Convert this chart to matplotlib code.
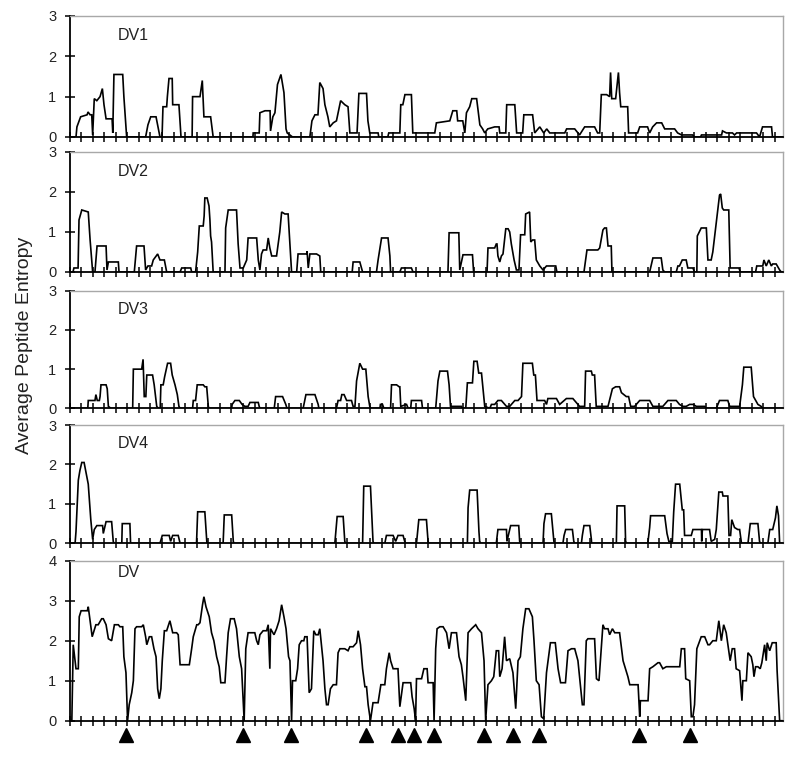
import matplotlib
matplotlib.use("Agg")
import matplotlib.pyplot as plt
import numpy as np

plt.rcParams['font.family'] = ['Liberation Sans', 'DejaVu Sans']

# ---------------- data (position in residues, average peptide entropy) ----------------
dv1_pos = [0, 28, 32, 48, 76, 80, 89, 96, 100, 107, 118, 132, 142, 149, 158, 184, 187, 192, 230, 235, 247,
           329, 339, 351, 374, 391, 400, 404, 420, 423, 430, 444, 446, 473, 482, 530, 532, 564, 574, 581, 610, 621,
           793, 794, 820, 823, 845, 867, 869, 879, 888, 899, 914, 927, 936, 941, 964,
           1039, 1048, 1061, 1074, 1082, 1096, 1104, 1117, 1125, 1140, 1154, 1172, 1190, 1204, 1212, 1243, 1251,
           1284, 1290, 1298, 1334, 1337, 1376, 1380, 1428, 1432, 1441, 1450, 1478, 1484, 1579, 1586, 1644, 1657,
           1674, 1678, 1700, 1709, 1716, 1730, 1739, 1760, 1774, 1786, 1795, 1808, 1838, 1857, 1860, 1886, 1890,
           1925, 1933, 1959, 1964, 2002, 2011, 2033, 2050, 2063, 2076, 2141, 2149, 2184, 2205, 2227, 2270, 2283,
           2292, 2299, 2322, 2335, 2339, 2344, 2361, 2373, 2378, 2383, 2413, 2417, 2456, 2465, 2499, 2508, 2521,
           2538, 2560, 2573, 2616, 2629, 2646, 2694, 2702, 2728, 2732, 2819, 2823, 2840, 2866, 2875, 2884, 2970,
           2983, 2996, 3035, 3039, 3082]
dv1_val = [0, 0, 0.25, 0.5, 0.55, 0.62, 0.55, 0.55, 0.05, 0.95, 0.9, 1.0, 1.2, 0.8, 0.45, 0.45, 0.1, 1.55, 1.55, 1.0, 0,
           0, 0.3, 0.5, 0.5, 0, 0, 0.75, 0.75, 1.0, 1.45, 1.45, 0.8, 0.8, 0, 0, 1.0, 1.0, 1.4, 0.5, 0.5, 0,
           0, 0.1, 0.1, 0.6, 0.65, 0.65, 0.15, 0.5, 0.6, 1.3, 1.55, 1.1, 0.2, 0.1, 0,
           0, 0.4, 0.55, 0.55, 1.35, 1.2, 0.8, 0.5, 0.25, 0.35, 0.4, 0.9, 0.8, 0.75, 0.1, 0.1, 1.08,
           1.08, 0.4, 0.1, 0.1, 0, 0, 0.1, 0.1, 0.8, 0.8, 1.05, 1.05, 0.1, 0.1, 0.35, 0.4, 0.65,
           0.65, 0.4, 0.4, 0.1, 0.6, 0.75, 0.95, 0.95, 0.3, 0.2, 0.1, 0.2, 0.25, 0.25, 0.1, 0.1, 0.8,
           0.8, 0.1, 0.1, 0.55, 0.55, 0.1, 0.25, 0.1, 0.2, 0.1, 0.1, 0.2, 0.2, 0.05, 0.25, 0.25, 0.1,
           0.1, 1.05, 1.05, 1.0, 1.6, 0.95, 0.95, 1.6, 1.1, 0.75, 0.75, 0.1, 0.1, 0.25, 0.25, 0.1, 0.25,
           0.35, 0.35, 0.2, 0.2, 0.1, 0.05, 0.05, 0, 0, 0.05, 0.05, 0.15, 0.1, 0.1, 0.05, 0.1, 0.1,
           0, 0.25, 0.25, 0, 0]

dv2_pos = [0, 15, 19, 37, 41, 53, 81, 89, 100, 110, 114, 119, 158, 162, 168, 211, 214, 280, 290, 322, 329, 339,
           355, 362, 381, 391, 410, 420, 478, 485, 524, 528, 545, 554, 561, 578, 582, 585, 595, 603, 607, 610,
           614, 621, 672, 675, 686, 722, 729, 737, 751, 766, 772, 809, 816, 823, 830, 837, 852, 859, 866, 874,
           895, 909, 917, 931, 945, 953, 960, 982, 988, 1025, 1027, 1032, 1039, 1068, 1082, 1086, 1222, 1226,
           1255, 1267, 1327, 1334, 1349, 1377, 1385, 1388, 1428, 1435, 1478, 1485, 1636, 1641, 1683, 1687, 1701,
           1742, 1747, 1805, 1809, 1838, 1845, 1848, 1852, 1860, 1867, 1874, 1886, 1896, 1903, 1910, 1922, 1932,
           1943, 1950, 1968, 1972, 1989, 1994, 2002, 2011, 2018, 2033, 2047, 2062, 2102, 2107, 2224, 2237, 2284,
           2292, 2306, 2313, 2321, 2328, 2342, 2345, 2508, 2522, 2558, 2565, 2573, 2623, 2630, 2637, 2649, 2666,
           2673, 2695, 2702, 2712, 2714, 2731, 2753, 2760, 2774, 2781, 2810, 2815, 2822, 2828, 2850, 2856, 2894,
           2900, 2966, 2971, 2997, 3002, 3012, 3023, 3034, 3040, 3055, 3070, 3077, 3082]
dv2_val = [0, 0, 0.1, 0.1, 1.3, 1.55, 1.5, 0.8, 0, 0, 0.3, 0.65, 0.65, 0.05, 0.25, 0.25, 0, 0, 0.65, 0.65, 0.05, 0.15,
           0.15, 0.3, 0.45, 0.3, 0.3, 0, 0, 0.1, 0.1, 0, 0, 0.5, 1.15, 1.15, 1.4, 1.85, 1.85, 1.65, 1.3, 0.9,
           0.75, 0, 0, 1.1, 1.55, 1.55, 0.7, 0.1, 0.1, 0.3, 0.85, 0.85, 0.3, 0.05, 0.45, 0.55, 0.55, 0.85, 0.6, 0.4,
           0.4, 1.0, 1.5, 1.45, 1.45, 0.7, 0, 0, 0.45, 0.45, 0.52, 0.1, 0.45, 0.45, 0.4, 0, 0, 0.25,
           0.25, 0, 0, 0.3, 0.85, 0.85, 0.4, 0, 0, 0.1, 0.1, 0, 0, 0.98, 0.98, 0.05, 0.43,
           0.43, 0, 0, 0.6, 0.6, 0.7, 0.7, 0.4, 0.25, 0.4, 0.45, 1.08, 1.08, 1.0, 0.7, 0.3, 0.05,
           0.05, 0.93, 0.93, 1.45, 1.5, 0.75, 0.8, 0.8, 0.3, 0.15, 0.05, 0.15, 0.15, 0, 0, 0.55, 0.55,
           0.6, 1.05, 1.1, 1.1, 0.65, 0.65, 0, 0, 0.35, 0.35, 0.05, 0, 0, 0.15, 0.15, 0.3, 0.3,
           0.1, 0.1, 0, 0, 0.9, 1.1, 1.1, 0.3, 0.3, 0.5, 1.92, 1.95, 1.6, 1.55, 1.55, 0.1, 0.1,
           0, 0, 0.15, 0.15, 0.3, 0.15, 0.3, 0.15, 0.2, 0.2, 0.05, 0, 0]

dv3_pos = [0, 79, 81, 110, 114, 120, 129, 132, 136, 158, 163, 168, 179, 273, 276, 312, 318, 323, 330, 334, 359, 366,
           377, 384, 392, 395, 405, 411, 424, 437, 444, 456, 466, 473, 478, 532, 535, 545, 552, 578, 585, 593, 600,
           603, 701, 703, 715, 734, 746, 758, 772, 780, 816, 820, 823, 885, 891, 921, 935, 940, 1010, 1022, 1061,
           1075, 1078, 1154, 1161, 1172, 1177, 1187, 1198, 1219, 1226, 1234, 1241, 1255, 1267, 1281, 1291, 1298,
           1302, 1342, 1344, 1353, 1359, 1388, 1392, 1414, 1425, 1428, 1432, 1457, 1464, 1475, 1478, 1522, 1526,
           1583, 1593, 1601, 1634, 1641, 1647, 1694, 1699, 1713, 1720, 1742, 1748, 1762, 1769, 1781, 1795, 1817,
           1824, 1838, 1852, 1867, 1889, 1903, 1925, 1939, 1954, 1960, 2001, 2007, 2014, 2021, 2054, 2062, 2068,
           2105, 2119, 2148, 2176, 2198, 2205, 2227, 2231, 2256, 2260, 2270, 2277, 2328, 2347, 2361, 2378, 2386,
           2407, 2417, 2426, 2443, 2465, 2508, 2522, 2565, 2580, 2587, 2623, 2637, 2652, 2666, 2681, 2695, 2710,
           2746, 2753, 2796, 2810, 2846, 2854, 2897, 2909, 2915, 2947, 2957, 2976, 2990, 2997, 3082]
dv3_val = [0, 0, 0.2, 0.2, 0.35, 0.2, 0.2, 0.3, 0.6, 0.6, 0.5, 0.05, 0, 0, 1.0, 1.0, 1.25, 0.3, 0.3, 0.85, 0.85, 0.6,
           0.05, 0, 0, 0.6, 0.6, 0.8, 1.15, 1.15, 0.85, 0.6, 0.35, 0.05, 0, 0, 0.2, 0.2, 0.6, 0.6, 0.55, 0.55, 0.05,
           0, 0, 0.1, 0.2, 0.2, 0.1, 0.05, 0.05, 0.15, 0.15, 0.05, 0, 0, 0.3, 0.3, 0.1, 0, 0, 0.35, 0.35,
           0.1, 0, 0, 0.2, 0.2, 0.35, 0.35, 0.2, 0.2, 0.05, 0.05, 0.7, 1.15, 1.0, 1.0, 0.3, 0.05,
           0, 0, 0.1, 0.1, 0, 0, 0.6, 0.6, 0.55, 0.55, 0.05, 0.1, 0, 0, 0.2, 0.2, 0,
           0, 0.7, 0.95, 0.95, 0.6, 0.05, 0.05, 0, 0, 0.65, 0.65, 1.2, 1.2, 0.9, 0.9, 0.05, 0,
           0.1, 0.1, 0.2, 0.2, 0.05, 0.05, 0.2, 0.2, 0.3, 1.15, 1.15, 0.85, 0.85, 0.2, 0.2, 0.1, 0.25,
           0.25, 0.1, 0.25, 0.25, 0.1, 0.05, 0.05, 0.95, 0.95, 0.85, 0.85, 0.05, 0.05, 0.5, 0.55, 0.55, 0.4,
           0.3, 0.3, 0.05, 0.05, 0.2, 0.2, 0.05, 0.05, 0.15, 0.2, 0.2, 0.1, 0.05, 0.05, 0.1, 0.1, 0.05,
           0.05, 0, 0, 0.2, 0.2, 0.05, 0.05, 0.6, 1.05, 1.05, 0.3, 0.1, 0.05, 0, 0]

dv4_pos = [0, 24, 28, 38, 45, 53, 63, 71, 81, 92, 100, 107, 118, 143, 146, 158, 182, 189, 192, 226, 228, 261, 264,
           391, 401, 431, 437, 446, 470, 478, 549, 554, 585, 593, 594, 664, 669, 701, 708, 711, 1147, 1157, 1183,
           1190, 1194, 1267, 1272, 1301, 1312, 1315, 1363, 1370, 1399, 1410, 1420, 1442, 1449, 1454, 1500, 1510,
           1543, 1550, 1553, 1720, 1723, 1730, 1762, 1770, 1773, 1778, 1845, 1852, 1889, 1891, 1907, 1942, 1946,
           1950, 2047, 2051, 2058, 2083, 2090, 2094, 2097, 2133, 2138, 2145, 2174, 2180, 2184, 2213, 2217, 2224,
           2249, 2256, 2257, 2364, 2367, 2400, 2404, 2409, 2500, 2508, 2512, 2573, 2583, 2591, 2606, 2612, 2620,
           2638, 2649, 2655, 2659, 2688, 2695, 2732, 2733, 2736, 2767, 2774, 2789, 2796, 2807, 2822, 2825, 2846,
           2851, 2858, 2863, 2875, 2889, 2897, 2904, 2905, 2933, 2943, 2976, 2983, 2987, 3019, 3027, 3040, 3052,
           3058, 3065, 3070, 3082]
dv4_val = [0, 0, 0.3, 1.6, 1.85, 2.05, 2.05, 1.8, 1.5, 0.6, 0.1, 0.35, 0.45, 0.45, 0.25, 0.55, 0.55, 0.05, 0, 0, 0.5, 0.5, 0,
           0, 0.2, 0.2, 0.05, 0.2, 0.2, 0, 0, 0.8, 0.8, 0.05, 0, 0, 0.72, 0.72, 0.05, 0, 0, 0.68, 0.68,
           0.05, 0, 0, 1.45, 1.45, 0.05, 0, 0, 0.2, 0.2, 0.05, 0.2, 0.2, 0.05, 0, 0, 0.6,
           0.6, 0.05, 0, 0, 0.9, 1.35, 1.35, 0.3, 0.05, 0, 0, 0.35, 0.35, 0.05, 0.45, 0.45, 0.05,
           0, 0, 0.5, 0.75, 0.75, 0.3, 0.05, 0, 0, 0.2, 0.35, 0.35, 0.05, 0, 0, 0.2, 0.45,
           0.45, 0.1, 0, 0, 0.95, 0.95, 0.05, 0, 0, 0.4, 0.7, 0.7, 0.25, 0.05, 0.05, 0.8, 1.5,
           1.5, 0.85, 0.85, 0.2, 0.2, 0.35, 0.35, 0.05, 0.35, 0.35, 0.05, 0.1, 0.35, 1.3, 1.3, 1.2, 1.2,
           0.2, 0.2, 0.6, 0.4, 0.35, 0.35, 0.05, 0, 0, 0.5, 0.5, 0.05, 0, 0, 0.35, 0.35, 0.65,
           0.95, 0.7, 0, 0]

dv_pos = [0, 10, 16, 28, 38, 42, 50, 77, 81, 89, 98, 114, 124, 139, 146, 158, 168, 182, 194, 211, 218, 230, 235, 244,
          251, 258, 269, 276, 283, 290, 312, 319, 329, 334, 345, 355, 365, 374, 381, 388, 395, 401, 410, 420, 434,
          446, 463, 470, 478, 518, 528, 535, 550, 556, 564, 575, 581, 590, 604, 614, 624, 636, 647, 654, 672, 679,
          686, 696, 712, 722, 734, 744, 755, 762, 772, 801, 809, 816, 823, 837, 852, 859, 866, 869, 884, 895, 906,
          917, 927, 936, 947, 953, 960, 964, 978, 986, 993, 1003, 1013, 1017, 1027, 1036, 1046, 1056, 1065, 1075,
          1082, 1089, 1096, 1104, 1111, 1118, 1128, 1140, 1154, 1161, 1169, 1190, 1204, 1212, 1226, 1241, 1248,
          1258, 1267, 1277, 1284, 1291, 1301, 1312, 1334, 1346, 1363, 1370, 1382, 1388, 1399, 1420, 1428, 1442,
          1475, 1481, 1490, 1496, 1500, 1522, 1532, 1546, 1550, 1572, 1576, 1583, 1589, 1601, 1615, 1630, 1641,
          1651, 1673, 1684, 1694, 1701, 1713, 1723, 1738, 1756, 1766, 1781, 1792, 1799, 1809, 1824, 1834, 1845,
          1855, 1860, 1870, 1881, 1889, 1903, 1917, 1929, 1939, 1949, 1960, 1972, 1986, 2001, 2008, 2018, 2030,
          2040, 2050, 2062, 2079, 2100, 2112, 2123, 2144, 2155, 2170, 2184, 2198, 2205, 2217, 2224, 2234, 2241,
          2270, 2278, 2289, 2306, 2313, 2328, 2335, 2347, 2357, 2378, 2393, 2414, 2422, 2458, 2465, 2468, 2501,
          2508, 2522, 2544, 2551, 2565, 2580, 2638, 2645, 2659, 2664, 2681, 2688, 2695, 2702, 2712, 2731, 2746,
          2760, 2767, 2781, 2796, 2807, 2818, 2828, 2839, 2856, 2865, 2875, 2882, 2897, 2907, 2911, 2926, 2933,
          2947, 2954, 2959, 2966, 2976, 2986, 2993, 3005, 3012, 3016, 3027, 3038, 3055, 3059, 3070, 3082]
dv_val = [0, 0, 1.9, 1.3, 1.3, 2.6, 2.75, 2.75, 2.85, 2.5, 2.1, 2.4, 2.4, 2.55, 2.55, 2.4, 2.05, 2.0, 2.4, 2.4, 2.35, 2.35, 1.6, 1.2,
          0, 0.4, 0.7, 1.0, 2.3, 2.35, 2.35, 2.4, 2.1, 1.9, 2.1, 2.1, 1.8, 1.6, 0.8, 0.55, 0.8, 1.5, 2.25, 2.25, 2.5,
          2.2, 2.2, 2.15, 1.4, 1.4, 1.8, 2.1, 2.4, 2.4, 2.45, 2.9, 3.1, 2.85, 2.6, 2.2, 2.0, 1.6, 1.35, 0.95, 0.95, 1.6,
          2.2, 2.55, 2.55, 2.3, 1.6, 1.3, 0, 1.8, 2.2, 2.2, 2.0, 1.9, 2.15, 2.25, 2.25, 2.4, 1.3, 2.3, 2.15, 2.3, 2.5,
          2.9, 2.6, 2.3, 1.6, 1.5, 0, 1.0, 1.0, 1.3, 1.9, 2.0, 2.0, 2.1, 2.1, 0.7, 0.8, 2.25, 2.15, 2.15,
          2.3, 1.9, 1.5, 0.8, 0.4, 0.4, 0.8, 0.9, 0.9, 1.7, 1.8, 1.8, 1.75, 1.85, 1.85, 1.95, 2.25,
          1.9, 1.3, 0.85, 0.85, 0.4, 0, 0.45, 0.45, 0.9, 0.9, 1.3, 1.7, 1.5, 1.3, 1.3, 0.35, 0.95,
          0.95, 0.6, 0.3, 0, 1.05, 1.05, 1.3, 1.3, 0.95, 0.95, 0, 1.8, 2.3, 2.35, 2.35, 2.2, 1.8,
          2.2, 2.2, 1.6, 1.4, 1.1, 0.5, 2.2, 2.3, 2.4, 2.3, 2.2, 1.5, 0, 0.9, 1.0, 1.1, 1.75,
          1.75, 1.1, 1.3, 2.1, 1.5, 1.55, 1.2, 0.3, 1.5, 1.6, 2.3, 2.8, 2.8, 2.6, 2.0, 1.0, 0.9,
          0.1, 0.05, 1.2, 1.95, 1.95, 1.3, 0.95, 0.95, 1.75, 1.8, 1.8, 1.5, 1.1, 0.4, 0.4, 2.0, 2.05,
          2.05, 1.05, 1.0, 2.4, 2.3, 2.3, 2.15, 2.3, 2.2, 2.2, 1.5, 1.1, 0.9, 0.9, 0.1, 0.5, 0.5,
          1.3, 1.35, 1.45, 1.45, 1.3, 1.35, 1.35, 1.8, 1.8, 1.05, 1.0, 0.1, 0.1, 0.4, 1.8, 2.1, 2.1,
          1.9, 1.9, 2.0, 2.0, 2.5, 2.0, 2.4, 2.2, 1.5, 1.8, 1.8, 1.3, 1.25, 0.5, 1.0, 1.0, 1.7,
          1.6, 1.4, 1.1, 1.35, 1.35, 1.3, 1.45, 1.9, 1.5, 1.95, 1.75, 1.95, 1.95, 1.25, 0, 0]

# positions of the triangle markers under the bottom panel
marker_pos = [244, 750, 957, 1282, 1420, 1488, 1574, 1792, 1917, 2030, 2462, 2682]

panel_names = ["DV1", "DV2", "DV3", "DV4", "DV"]
panel_ymax = [3, 3, 3, 3, 4]
series_pos = [dv1_pos, dv2_pos, dv3_pos, dv4_pos, dv_pos]
series_val = [dv1_val, dv2_val, dv3_val, dv4_val, dv_val]

x_max = 3085
tick_step = 50
y_label = "Average Peptide Entropy"

# ---------------- layout ----------------
fig = plt.figure(figsize=(8.0, 7.58), dpi=100)
left, width = 0.0869, 0.892
rects = [(0.8193, 0.1596), (0.6412, 0.1583), (0.4613, 0.1551), (0.2832, 0.1561), (0.0492, 0.2110)]
label_y = [0.84, 0.84, 0.84, 0.84, 0.925]

text_col = '#222222'
for i, (b, h) in enumerate(rects):
    ax = fig.add_axes([left, b, width, h])
    ax.plot(series_pos[i], series_val[i], color='black', lw=1.2, solid_joinstyle='miter')
    ax.set_xlim(0, x_max)
    ax.set_ylim(0, panel_ymax[i])
    ax.set_yticks(range(0, panel_ymax[i] + 1))
    ax.set_xticks(np.arange(0, x_max, tick_step))
    ax.set_xticklabels([])
    ax.tick_params(axis='both', direction='inout', length=7, width=1.1, colors='black',
                   labelcolor=text_col, labelsize=10.5)
    ax.tick_params(axis='y', pad=6)
    for s in ['left', 'bottom']:
        ax.spines[s].set_color('black')
        ax.spines[s].set_linewidth(1.3)
    for s in ['top', 'right']:
        ax.spines[s].set_color('#a8a8a8')
        ax.spines[s].set_linewidth(1.0)
    ax.text(0.067, label_y[i], panel_names[i], transform=ax.transAxes, fontsize=11.5,
            color=text_col, va='center', ha='left')
    if i == len(rects) - 1:
        ax.plot(marker_pos, [-0.088] * len(marker_pos), linestyle='none', marker='^',
                markersize=10, color='black', transform=ax.get_xaxis_transform(), clip_on=False)

fig.text(0.031, 0.545, y_label, rotation=90, ha='center', va='center', fontsize=14, color=text_col)

fig.savefig("out.png", dpi=100)
